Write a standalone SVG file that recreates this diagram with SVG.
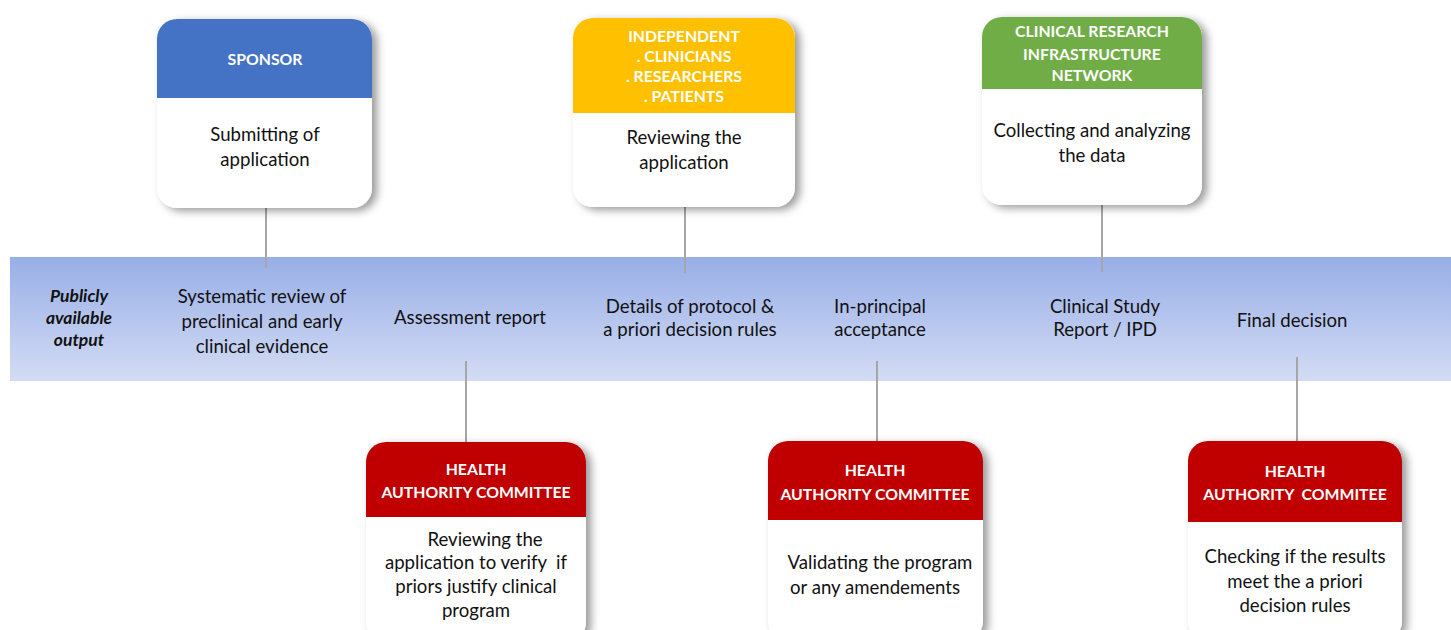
<svg xmlns="http://www.w3.org/2000/svg" width="1451" height="630" viewBox="0 0 1451 630">
<defs>
<linearGradient id="band" x1="0" y1="0" x2="0" y2="1">
<stop offset="0" stop-color="#98aee7"/>
<stop offset="1" stop-color="#d3dcf4"/>
</linearGradient>
<filter id="sh" x="-20%" y="-20%" width="140%" height="140%">
<feDropShadow dx="5" dy="3" stdDeviation="4.5" flood-color="#000" flood-opacity="0.4"/>
</filter>
</defs>
<style>
.body{fill:#fff;filter:url(#sh)}
.hd{fill:#fff;font-family:Lato,"Liberation Sans",sans-serif;font-weight:bold;font-size:15.8px;text-anchor:middle}
.tx{fill:#111;font-family:Lato,"Liberation Sans",sans-serif;font-size:18.6px;text-anchor:middle}
.pub{fill:#111;font-family:Lato,"Liberation Sans",sans-serif;font-size:17.5px;font-weight:bold;font-style:italic;text-anchor:middle}
.ln{stroke:#a6a6a6;stroke-width:2;fill:none}
</style>
<rect x="10" y="257" width="1441" height="124" fill="url(#band)"/>
<g id="band-labels">
<text class="pub" x="79" y="302">Publicly</text>
<text class="pub" x="79" y="324">available</text>
<text class="pub" x="79" y="346">output</text>
<text class="tx" x="262" y="303">Systematic review of</text>
<text class="tx" x="262" y="328">preclinical and early</text>
<text class="tx" x="262" y="353">clinical evidence</text>
<text class="tx" x="470" y="324">Assessment report</text>
<text class="tx" x="690" y="313">Details of protocol &amp;</text>
<text class="tx" x="690" y="336">a priori decision rules</text>
<text class="tx" x="880" y="313">In-principal</text>
<text class="tx" x="880" y="336">acceptance</text>
<text class="tx" x="1105" y="313">Clinical Study</text>
<text class="tx" x="1105" y="336">Report / IPD</text>
<text class="tx" x="1292" y="327">Final decision</text>
</g>
<g id="connectors">
<line class="ln" x1="266" y1="208" x2="266" y2="268"/>
<line class="ln" x1="685" y1="207" x2="685" y2="273"/>
<line class="ln" x1="1102" y1="205" x2="1102" y2="272"/>
<line class="ln" x1="466" y1="361" x2="466" y2="442"/>
<line class="ln" x1="877" y1="361" x2="877" y2="441"/>
<line class="ln" x1="1297" y1="357" x2="1297" y2="441"/>
</g>
<g id="sponsor">
<rect class="body" x="157" y="19" width="215" height="189" rx="20"/>
<path d="M157,98 V39 A20,20 0 0 1 177,19 H352 A20,20 0 0 1 372,39 V98 Z" fill="#4472c4"/>
<text class="hd" x="265" y="65">SPONSOR</text>
<text class="tx" x="265" y="141">Submitting of</text>
<text class="tx" x="265" y="166">application</text>
</g>
<g id="independent">
<rect class="body" x="573" y="18" width="222" height="189" rx="20"/>
<path d="M573,113 V38 A20,20 0 0 1 593,18 H775 A20,20 0 0 1 795,38 V113 Z" fill="#ffc000"/>
<text class="hd" x="684" y="42">INDEPENDENT</text>
<text class="hd" x="684" y="62">. CLINICIANS</text>
<text class="hd" x="684" y="82">. RESEARCHERS</text>
<text class="hd" x="684" y="102">. PATIENTS</text>
<text class="tx" x="684" y="144">Reviewing the</text>
<text class="tx" x="684" y="169">application</text>
</g>
<g id="crin">
<rect class="body" x="982" y="17" width="220" height="188" rx="20"/>
<path d="M982,89 V37 A20,20 0 0 1 1002,17 H1182 A20,20 0 0 1 1202,37 V89 Z" fill="#70ad47"/>
<text class="hd" x="1092" y="37">CLINICAL RESEARCH</text>
<text class="hd" x="1092" y="60">INFRASTRUCTURE</text>
<text class="hd" x="1092" y="81">NETWORK</text>
<text class="tx" x="1092" y="137">Collecting and analyzing</text>
<text class="tx" x="1092" y="162">the data</text>
</g>
<g id="hac1">
<rect class="body" x="366" y="442" width="220" height="200" rx="20"/>
<path d="M366,517 V462 A20,20 0 0 1 386,442 H566 A20,20 0 0 1 586,462 V517 Z" fill="#c00000"/>
<text class="hd" x="476" y="475">HEALTH</text>
<text class="hd" x="476" y="498">AUTHORITY COMMITTEE</text>
<text class="tx" x="485" y="546">Reviewing the</text>
<text class="tx" x="476" y="569" xml:space="preserve">application to verify  if</text>
<text class="tx" x="476" y="593">priors justify clinical</text>
<text class="tx" x="476" y="617">program</text>
</g>
<g id="hac2">
<rect class="body" x="768" y="441" width="215" height="200" rx="20"/>
<path d="M768,520 V461 A20,20 0 0 1 788,441 H963 A20,20 0 0 1 983,461 V520 Z" fill="#c00000"/>
<text class="hd" x="875" y="476">HEALTH</text>
<text class="hd" x="875" y="500">AUTHORITY COMMITTEE</text>
<text class="tx" x="880" y="569">Validating the program</text>
<text class="tx" x="875" y="594">or any amendements</text>
</g>
<g id="hac3">
<rect class="body" x="1188" y="441" width="214" height="200" rx="20"/>
<path d="M1188,522 V461 A20,20 0 0 1 1208,441 H1382 A20,20 0 0 1 1402,461 V522 Z" fill="#c00000"/>
<text class="hd" x="1295" y="477">HEALTH</text>
<text class="hd" x="1295" y="500" xml:space="preserve">AUTHORITY  COMMITEE</text>
<text class="tx" x="1295" y="563">Checking if the results</text>
<text class="tx" x="1295" y="588">meet the a priori</text>
<text class="tx" x="1295" y="612">decision rules</text>
</g>
</svg>
